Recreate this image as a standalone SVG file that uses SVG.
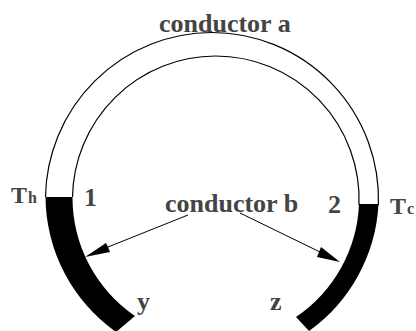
<svg xmlns="http://www.w3.org/2000/svg" width="416" height="331" viewBox="0 0 416 331">
<style>
text{font-family:"Liberation Serif","Times New Roman",serif;font-weight:bold;fill:#444;font-size:26px}
.t{font-size:24px}
.s{font-size:16px}
.w{fill:none;stroke:#000;stroke-width:1.2}
.c{fill:#000;stroke:none}
.l{stroke:#000;stroke-width:1;fill:none}
</style>
<rect width="416" height="331" fill="#fff"/>
<g id="conductor-a"><path class="w" d="M45.500 197A167 167 0 0 1 211.500 32.500A167 167 0 0 1 378.400 205"/><path class="w" d="M72.500 197A143.500 143.500 0 0 1 215.500 56A143.500 143.500 0 0 1 359 205"/></g>
<g id="conductor-b-left"><path class="c" d="M45.500 197L72.500 197A143.500 143.500 0 0 0 135 316L116 332A167 167 0 0 1 45.500 197Z"/></g>
<g id="conductor-b-right"><path class="c" d="M359 204L378.500 204A167 167 0 0 1 309 331L296 317A143.500 143.500 0 0 0 359 204Z"/></g>
<g id="connectors">
<path class="l" d="M188 215L108 247"/><path class="c" d="M85 257L106 243L108 247L110 252Z"/>
<path class="l" d="M240 213L320 252"/><path class="c" d="M340 262L317 257L319 252L321 247Z"/>
</g>
<g id="labels">
<text x="159" y="31.500">conductor a</text>
<text x="165" y="212">conductor b</text>
<text class="t" x="11" y="203">T</text><text class="s" x="28" y="203">h</text>
<text x="84" y="206">1</text><text x="328" y="213">2</text>
<text class="t" x="390" y="214">T</text><text class="s" x="407" y="214">c</text>
<text x="137" y="310">y</text><text x="270" y="310">z</text>
</g>
</svg>
